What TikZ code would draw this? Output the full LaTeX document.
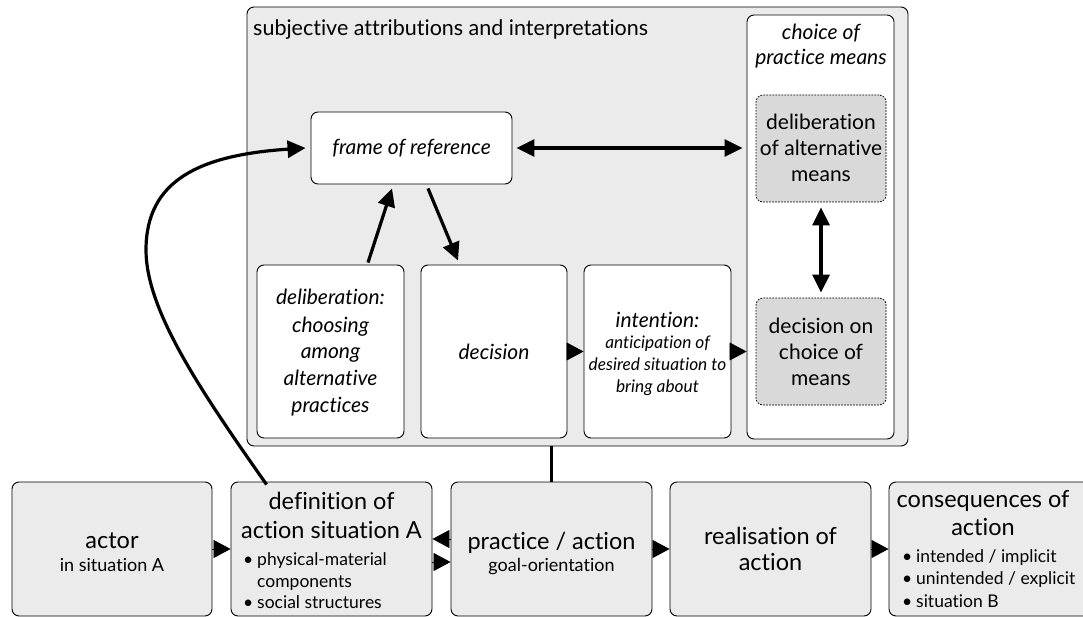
\documentclass[tikz,border=0pt]{standalone}
\usepackage{fontspec}
\setmainfont{Lato}[Ligatures=NoCommon]
\usetikzlibrary{arrows.meta,calc}
\definecolor{boxgray}{HTML}{EBEBEB}
\definecolor{dotgray}{HTML}{D9D9D9}
\newcommand\fTitle{\fontsize{23.5}{27}\selectfont}
\newcommand\fSub{\fontsize{18}{21}\selectfont}
\newcommand\fBul{\fontsize{17.5}{21}\selectfont}
\newcommand\fLab{\fontsize{21.5}{25}\selectfont}
\newcommand\fIt{\fontsize{21}{25}\selectfont\itshape}
\newcommand\fItS{\fontsize{17.3}{20}\selectfont\itshape}
\newcommand\fDot{\fontsize{21}{25}\selectfont}
\newcommand\bul[1]{\makebox[14pt][l]{\textbullet}#1}
\newcommand\nobul[1]{\makebox[14pt][l]{}#1}
\begin{document}
\begin{tikzpicture}[x=1pt,y=-1pt,
  box/.style={draw, rounded corners=7pt, line width=0.9pt, inner sep=0pt},
  graybox/.style={box, fill=boxgray},
  whitebox/.style={box, fill=white},
  dotbox/.style={draw, rounded corners=7pt, line width=0.8pt, dash pattern=on 1.6pt off 1.4pt, fill=dotgray, inner sep=0pt},
  txt/.style={inner sep=0pt, anchor=base},
  txtl/.style={inner sep=0pt, anchor=base west},
  tri/.style={-{Triangle[length=17pt,width=18pt]}, line width=0.8pt},
  thick arrow/.style={-{Triangle[length=18pt,width=17pt]}, line width=3.2pt},
  dbl/.style={{Triangle[length=18pt,width=17pt]}-{Triangle[length=18pt,width=17pt]}, line width=3.2pt}
]
\useasboundingbox (0,0) rectangle (1083,617);

% big container
\node[graybox, minimum width=661pt, minimum height=439pt] (outer) at (577.5,226.5) {};
\node[txtl, font=\fLab] (outerlab) at (253,36) {subjective attributions and interpretations};

% choice of practice means
\node[whitebox, minimum width=147pt, minimum height=424pt] (choice) at (820.5,227) {};
\node[txt, font=\fIt] (choiceA) at (821,40) {choice of};
\node[txt, font=\fIt] (choiceB) at (821,65) {practice means};
\node[dotbox, minimum width=130pt, minimum height=107pt] (delmeans) at (821,148.5) {};
\node[txt, font=\fDot] (dmA) at (821,130) {deliberation};
\node[txt, font=\fDot] (dmB) at (821,156) {of alternative};
\node[txt, font=\fDot] (dmC) at (821,182) {means};
\node[dotbox, minimum width=130pt, minimum height=107pt] (decmeans) at (821,351.5) {};
\node[txt, font=\fDot] (cmA) at (821,333) {decision on};
\node[txt, font=\fDot] (cmB) at (821,359) {choice of};
\node[txt, font=\fDot] (cmC) at (821,385) {means};

% frame of reference
\node[whitebox, minimum width=201pt, minimum height=72pt] (frame) at (411.5,148) {};
\node[txt, font=\fIt] (frameT) at (411.5,155) {frame of reference};

% inner row
\node[whitebox, minimum width=147pt, minimum height=173pt] (delib) at (330.5,351.5) {};
\node[txt, font=\fIt] (dA) at (330.5,305) {deliberation:};
\node[txt, font=\fIt] (dB) at (330.5,332) {choosing};
\node[txt, font=\fIt] (dC) at (330.5,358) {among};
\node[txt, font=\fIt] (dD) at (330.5,385) {alternative};
\node[txt, font=\fIt] (dE) at (330.5,412) {practices};

\node[whitebox, minimum width=146pt, minimum height=173pt] (decision) at (494,351.5) {};
\node[txt, font=\fIt] (decT) at (494,359) {decision};

\node[whitebox, minimum width=147pt, minimum height=173pt] (intention) at (657.5,351.5) {};
\node[txt, font=\fIt] (iA) at (657.5,327) {intention:};
\node[txt, font=\fItS] (iB) at (657.5,348) {anticipation of};
\node[txt, font=\fItS] (iC) at (657.5,370) {desired situation to};
\node[txt, font=\fItS] (iD) at (657.5,392) {bring about};

% bottom row
\node[graybox, minimum width=200pt, minimum height=134pt] (actor) at (112,549) {};
\node[txt, font=\fTitle] (actorT) at (112,548) {actor};
\node[txt, font=\fSub] (actorS) at (112,571) {in situation A};

\node[graybox, minimum width=201pt, minimum height=134pt] (def) at (331.5,549) {};
\node[txt, font=\fTitle] (defA) at (331.5,509) {definition of};
\node[txt, font=\fTitle] (defB) at (331.5,538) {action situation A};
\node[txtl, font=\fBul] (defC) at (243,565) {\bul{physical-material}};
\node[txtl, font=\fBul] (defD) at (243,587) {\nobul{components}};
\node[txtl, font=\fBul] (defE) at (243,608) {\bul{social structures}};

\node[graybox, minimum width=201pt, minimum height=134pt] (practice) at (551.5,549) {};
\node[txt, font=\fTitle] (prA) at (551.5,549) {practice / action};
\node[txt, font=\fSub] (prB) at (551.5,571) {goal-orientation};

\node[graybox, minimum width=201pt, minimum height=134pt] (real) at (770.5,549) {};
\node[txt, font=\fTitle] (reA) at (770.5,544) {realisation of};
\node[txt, font=\fTitle] (reB) at (770.5,570) {action};

\node[graybox, minimum width=201pt, minimum height=134pt] (cons) at (989.5,549) {};
\node[txt, font=\fTitle] (coA) at (983,507) {consequences of};
\node[txt, font=\fTitle] (coB) at (983,535) {action};
\node[txtl, font=\fBul] (coC) at (902,562) {\bul{intended / implicit}};
\node[txtl, font=\fBul] (coD) at (902,584) {\bul{unintended / explicit}};
\node[txtl, font=\fBul] (coE) at (902,607) {\bul{situation B}};

% connectors
\draw[dbl, shorten <=4pt, shorten >=4pt] (frame.east) -- (choice.west |- frame.east);
\draw[dbl, shorten <=5pt, shorten >=5pt] (delmeans.south) -- (decmeans.north);
\draw[thick arrow] ([xshift=37.5pt,yshift=2pt]delib.north) -- ([xshift=-19.5pt,yshift=-4pt]frame.south);
\draw[thick arrow] ([xshift=16.5pt,yshift=-4pt]frame.south) -- ([xshift=-36pt,yshift=4pt]decision.north);
\draw[tri] (decision.east) -- (intention.west);
\draw[tri] (intention.east) -- (choice.west |- intention.east);

\draw[line width=2.2pt] (outer.south -| practice.north) -- (practice.north);
\draw[tri] (actor.east) -- (def.west);
\draw[tri] ([yshift=10pt]practice.west) -- ([yshift=10pt]def.east);
\draw[tri] ([yshift=-13pt]def.east) -- ([yshift=-13pt]practice.west);
\draw[tri] (practice.east) -- (real.west);
\draw[tri] (real.east) -- (cons.west);

\coordinate (cstart) at ([xshift=36pt,yshift=-3pt]def.north west);
\draw[thick arrow] (cstart) .. controls (200,390) and (146,310) .. (146,250)
  .. controls (146,180) and (200,155) .. ([xshift=-5pt]frame.west);
\end{tikzpicture}
\end{document}
